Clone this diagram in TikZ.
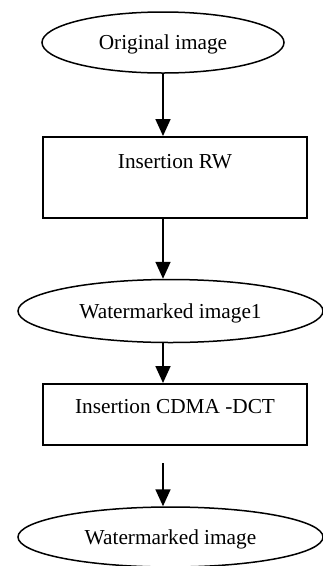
\documentclass[tikz,border=0pt]{standalone}
\usepackage{fontspec}
\setmainfont{Liberation Serif}
\usetikzlibrary{shapes.geometric,arrows.meta}
\tikzset{
  base/.style={draw, line width=1.5pt, inner sep=0pt, font=\fontsize{21.3}{25}\selectfont},
  term/.style={base, ellipse, text height=14pt, text depth=0pt},
  proc/.style={base, rectangle, minimum width=264pt, line width=1.8pt},
  flow/.style={line width=1.8pt, -{Triangle[length=17pt,width=15pt]}}
}
\begin{document}
\begin{tikzpicture}[x=1pt,y=-1pt]
  \useasboundingbox (0,0) rectangle (323,566);
  \clip (0,0) rectangle (323,566);
  % terminals and process boxes
  \node[term, minimum width=242pt, minimum height=61pt] (e1) at (163,42.5) {Original image};
  \node[proc, text height=32pt, text depth=49pt, anchor=north] (b1) at (175,136) {Insertion RW};
  \node[term, minimum width=305pt, minimum height=63pt] (e2) at (170.5,311) {Watermarked image1};
  \node[proc, text height=30pt, text depth=31pt, anchor=north] (b2) at (175,383) {Insertion CDMA -DCT};
  \node[term, minimum width=305pt, minimum height=60pt] (e3) at (170.5,537) {Watermarked image};
  \coordinate (s4) at (163,463);
  % connectors
  \draw[flow] (e1.south) -- (e1.south |- b1.north);
  \draw[flow] (e1.south |- b1.south) -- (e1.south |- e2.north);
  \draw[flow] (e1.south |- e2.south) -- (e1.south |- b2.north);
  \draw[flow] (s4) -- (s4 |- e3.north);
\end{tikzpicture}
\end{document}
